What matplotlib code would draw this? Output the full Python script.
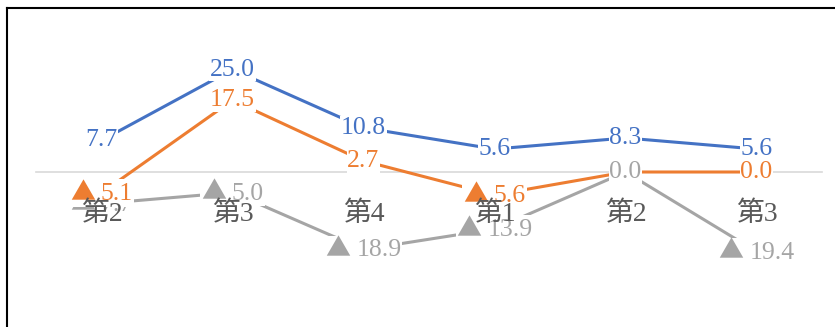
import matplotlib.pyplot as plt
from matplotlib.lines import Line2D
from matplotlib.offsetbox import TextArea, HPacker, AnnotationBbox

# chart data
categories = ['第2', '第3', '第4', '第1', '第2', '第3']
blue_vals = [7.7, 25.0, 10.8, 5.6, 8.3, 5.6]
orange_vals = [-5.1, 17.5, 2.7, -5.6, 0.0, 0.0]
gray_vals = [-7.7, -5.0, -18.9, -13.9, 0.0, -19.4]

colors = ['#4472C4', '#ED7D31', '#A5A5A5']
fonts = ['Liberation Serif', 'Noto Sans CJK JP', 'DejaVu Sans']

W, H = 835, 327
fig = plt.figure(figsize=(W / 100, H / 100), dpi=100)
ax = fig.add_axes([36 / W, (H - 320) / H, (822 - 36) / W, 300 / H])

x = list(range(len(categories)))
series = [blue_vals, orange_vals, gray_vals]

# lines
for vals, c in zip(series, colors):
    ax.plot(x, vals, color=c, lw=2.2, zorder=2)


def make_label(v, c):
    # negative values get a big triangle in front of the number
    parts = []
    if v < 0:
        parts.append(TextArea('▲', textprops=dict(color=c, fontsize=18,
                                                  family='Noto Sans CJK JP')))
    parts.append(TextArea('%.1f' % abs(v), textprops=dict(color=c, fontsize=18.5,
                                                          family='Liberation Serif')))
    return HPacker(children=parts, sep=4, pad=0, align='baseline')


# data labels, white box so they cut the lines
label_z = [4.0, 4.3, 4.2]
for si, (vals, c) in enumerate(zip(series, colors)):
    for i, v in enumerate(vals):
        z = label_z[si]
        if si == 2 and v == orange_vals[i]:
            z = 4.4
        ab = AnnotationBbox(make_label(v, c), (i, v), frameon=True, pad=0.05,
                            bboxprops=dict(fc='white', ec='none'),
                            box_alignment=(0.5, 0.5), zorder=z)
        ax.add_artist(ab)

ax.set_xlim(-0.5, 5.5)
ax.set_ylim(-(320 - 172) / 4.1, (172 - 20) / 4.1)

# axis on zero line
for s in ['top', 'right', 'left']:
    ax.spines[s].set_visible(False)
ax.spines['bottom'].set_position(('data', 0))
ax.spines['bottom'].set_color('#D9D9D9')
ax.spines['bottom'].set_linewidth(1.2)
ax.spines['bottom'].set_zorder(1)
ax.set_yticks([])
ax.set_xticks(x)
ax.set_xticklabels(categories, family=fonts, fontsize=20, color='#595959')
ax.tick_params(axis='x', length=0, pad=21)
ax.xaxis.set_zorder(6)

# outer frame (only left and top are in view)
fig.add_artist(Line2D([7 / W, 1], [1 - 8 / H, 1 - 8 / H], transform=fig.transFigure,
                      color='black', lw=1.5))
fig.add_artist(Line2D([7 / W, 7 / W], [0, 1 - 8 / H], transform=fig.transFigure,
                      color='black', lw=1.5))

fig.savefig('out.png', dpi=100)
